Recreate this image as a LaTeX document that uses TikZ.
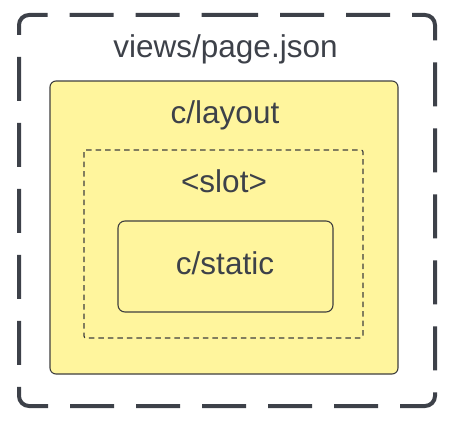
\documentclass[tikz,border=0pt]{standalone}
\usepackage{fontspec}
\setmainfont{Liberation Sans}
\definecolor{inkgray}{HTML}{3D4149}
\definecolor{boxline}{HTML}{3F3F3F}
\definecolor{padyellow}{HTML}{FFF59D}
\tikzset{
  frame/.style={draw=inkgray, line width=4pt, dash pattern=on 44pt off 22pt, dash phase=23pt, line cap=butt},
  layoutbox/.style={draw=boxline, fill=padyellow, line width=1.1pt, rounded corners=6pt},
  slotbox/.style={draw=boxline, line width=1.2pt, dash pattern=on 5.5pt off 4pt, rounded corners=2pt},
  staticbox/.style={draw=boxline, line width=1.1pt, rounded corners=7pt},
  label/.style={text=inkgray, font=\fontsize{31.5}{36}\selectfont, anchor=base, inner sep=0pt}
}
\begin{document}
\begin{tikzpicture}[x=1pt,y=-1pt]
\useasboundingbox (0,0) rectangle (460,428);
% outer dashed frame
\draw[frame, rounded corners=10pt] (227,15) -- (435,15) -- (435,406) -- (19,406) -- (19,15) -- cycle;
% layout box
\draw[layoutbox] (50,81) rectangle (398,374);
% slot box
\draw[slotbox] (84,150) rectangle (363,338);
% static box
\draw[staticbox] (118,221) rectangle (333,312);
% labels
\node[label] (title) at (225.5,58) {views/page.json};
\node[label] (layout) at (225,123.5) {c/layout};
\node[label] (slot) at (224,192) {<slot>};
\node[label] (static) at (225,274) {c/static};
\end{tikzpicture}
\end{document}
